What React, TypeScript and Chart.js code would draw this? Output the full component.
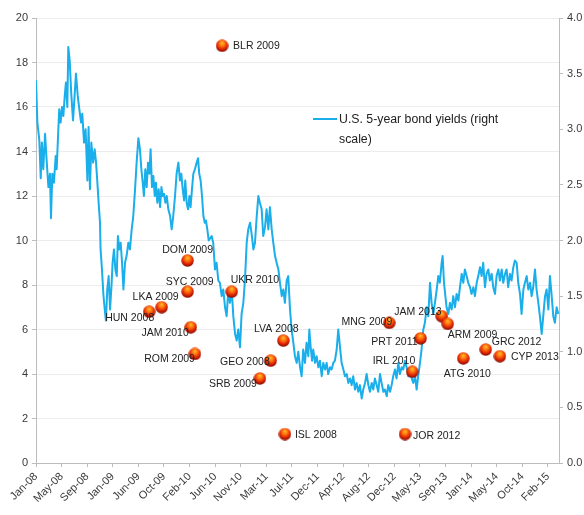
import React, { useEffect, useRef } from 'react';
import { Chart, registerables } from 'chart.js';

Chart.register(...registerables);

// ---------- data ----------
const xTickLabels = ['Jan-08', 'May-08', 'Sep-08', 'Jan-09', 'Jun-09', 'Oct-09', 'Feb-10', 'Jun-10', 'Nov-10', 'Mar-11', 'Jul-11', 'Dec-11', 'Apr-12', 'Aug-12', 'Dec-12', 'May-13', 'Sep-13', 'Jan-14', 'May-14', 'Oct-14', 'Feb-15'];
const TICK_STEP_DAYS = 130; // days between date labels (from 1 Jan 2008)
const X_MAX_DAYS = 2656;

const leftTicks = [0, 2, 4, 6, 8, 10, 12, 14, 16, 18, 20];
const rightTicks = [0, 0.5, 1, 1.5, 2, 2.5, 3, 3.5, 4];

// U.S. 5-year bond yields (right scale), days since 1 Jan 2008
const bondDays = [
  0, 7, 17, 24, 30, 37, 46, 54, 63, 71, 76, 83, 91, 100, 105, 112, 118, 125, 132, 139, 146, 152, 159, 164, 171, 179, 188, 196, 203, 212, 220, 229, 235, 244, 252, 261, 267, 274, 281, 290, 298, 305, 311, 318, 325, 328, 335, 342, 349, 355, 362, 369, 376, 383, 389, 396, 403, 410, 416, 423, 430, 437,
  444, 452, 460, 469, 477, 486, 494, 503, 511, 520, 528, 535, 542, 548, 555, 562, 569, 576, 582, 589, 596, 603, 609, 616, 623, 630, 637, 643, 650, 657, 664, 672, 681, 689, 697, 706, 714, 723, 731, 738, 745, 752, 758, 765, 772, 779, 785, 792, 799, 807, 816, 823, 829, 836, 843, 850, 857, 863, 870, 877,
  892, 900, 909, 917, 926, 934, 943, 951, 960, 968, 977, 985, 994, 1002, 1011, 1019, 1027, 1036, 1044, 1053, 1061, 1070, 1078, 1087, 1095, 1104, 1112, 1121, 1129, 1137, 1146, 1154, 1163, 1171, 1180, 1188, 1197, 1205, 1214, 1222, 1231, 1239, 1248, 1256, 1264, 1273, 1281, 1290, 1298, 1307, 1315, 1324, 1332, 1341,
  1349, 1357, 1366, 1374, 1383, 1388, 1395, 1402, 1408, 1417, 1425, 1434, 1442, 1451, 1459, 1468, 1476, 1484, 1493, 1501, 1510, 1518, 1527, 1535, 1544, 1552, 1561, 1569, 1578, 1586, 1595, 1603, 1611, 1620, 1628, 1637, 1645, 1654, 1662, 1671, 1679, 1688, 1696, 1705, 1713, 1721, 1730, 1738, 1747, 1755, 1764, 1772, 1781, 1789, 1798,
  1806, 1814, 1823, 1831, 1840, 1848, 1857, 1865, 1874, 1882, 1891, 1899, 1908, 1916, 1925, 1933, 1941, 1950, 1958, 1967, 1975, 1984, 1992, 2001, 2009, 2018, 2026, 2035, 2043, 2051, 2060, 2065, 2072, 2079, 2085, 2094, 2102, 2111, 2119, 2128, 2136, 2145, 2153, 2162, 2170, 2178, 2187, 2195, 2204, 2212, 2221, 2229, 2238, 2246, 2255,
  2263, 2271, 2280, 2288, 2297, 2305, 2314, 2322, 2331, 2339, 2348, 2356, 2365, 2373, 2382, 2390, 2398, 2407, 2415, 2424, 2432, 2441, 2449, 2458, 2466, 2475, 2483, 2492, 2500, 2509, 2517, 2525, 2534, 2542, 2551, 2559, 2568, 2576, 2585, 2593, 2602, 2610, 2619, 2627, 2635, 2644, 2652,
];
const bondYields = [
  3.44, 3.06, 2.90, 2.56, 2.88, 2.64, 2.96, 2.72, 2.48, 2.60, 2.20, 2.60, 2.52, 2.76, 2.64, 2.94, 3.18, 3.06, 3.20, 3.12, 3.30, 3.42, 3.20, 3.74, 3.62, 3.32, 3.08, 3.30, 3.50, 3.30, 3.18, 3.06, 3.14, 2.88, 3.00, 2.54, 3.02, 2.46, 2.88, 2.70, 2.82, 2.70, 2.54, 2.34, 2.16, 1.92, 1.74, 1.52, 1.38, 1.28, 1.56, 1.68, 1.38, 1.58, 1.80, 1.92, 1.74, 1.68, 2.04, 1.92, 1.98, 1.80,
  1.56, 1.80, 1.86, 1.98, 1.92, 2.10, 2.22, 2.46, 2.70, 2.92, 2.82, 2.64, 2.52, 2.40, 2.64, 2.48, 2.70, 2.60, 2.82, 2.48, 2.58, 2.40, 2.52, 2.34, 2.46, 2.30, 2.48, 2.40, 2.42, 2.34, 2.40, 2.28, 2.22, 2.10, 2.22, 2.40, 2.60, 2.70, 2.54, 2.60, 2.46, 2.36, 2.54, 2.34, 2.28, 2.40, 2.30, 2.46, 2.60, 2.64, 2.70, 2.74, 2.60, 2.54, 2.40, 2.22, 2.16, 2.18, 2.10, 2.00,
  2.04, 1.98, 1.74, 1.80, 1.64, 1.62, 1.50, 1.56, 1.40, 1.32, 1.56, 1.44, 1.56, 1.32, 1.16, 1.10, 1.20, 1.04, 1.34, 1.44, 1.64, 1.98, 2.10, 2.16, 2.06, 1.92, 1.98, 2.22, 2.40, 2.34, 2.28, 2.04, 2.12, 2.28, 2.10, 2.30, 2.10, 1.98, 1.86, 1.80, 1.74, 1.62, 1.50, 1.56, 1.44, 1.64, 1.68, 1.38, 1.20, 1.08, 0.96, 0.90, 1.00, 0.86,
  0.78, 1.02, 0.90, 1.08, 0.96, 1.20, 1.04, 0.92, 1.02, 0.90, 0.96, 0.86, 0.92, 0.78, 0.90, 0.84, 0.90, 0.80, 0.86, 0.84, 0.90, 0.92, 1.02, 1.20, 1.04, 0.90, 0.84, 0.78, 0.80, 0.72, 0.76, 0.70, 0.78, 0.66, 0.72, 0.64, 0.70, 0.58, 0.66, 0.72, 0.80, 0.70, 0.64, 0.72, 0.66, 0.76, 0.70, 0.64, 0.80, 0.72, 0.64, 0.66, 0.60, 0.70, 0.64,
  0.70, 0.78, 0.84, 0.76, 0.90, 0.80, 0.86, 0.84, 0.92, 0.86, 0.78, 0.84, 0.76, 0.72, 0.78, 0.66, 0.78, 0.90, 1.02, 1.20, 1.26, 1.40, 1.32, 1.62, 1.44, 1.34, 1.44, 1.56, 1.68, 1.62, 1.80, 1.86, 1.62, 1.50, 1.40, 1.34, 1.44, 1.38, 1.50, 1.40, 1.52, 1.46, 1.58, 1.70, 1.62, 1.74, 1.68, 1.62, 1.58, 1.52, 1.58, 1.50, 1.62, 1.68, 1.76,
  1.68, 1.80, 1.58, 1.70, 1.74, 1.64, 1.70, 1.58, 1.52, 1.68, 1.74, 1.64, 1.74, 1.62, 1.70, 1.74, 1.58, 1.70, 1.64, 1.76, 1.82, 1.80, 1.62, 1.52, 1.34, 1.56, 1.62, 1.68, 1.56, 1.62, 1.50, 1.58, 1.74, 1.56, 1.44, 1.32, 1.16, 1.32, 1.50, 1.56, 1.38, 1.68, 1.50, 1.32, 1.26, 1.40, 1.34,
];

// Episodes (left scale)
const episodeNames = ['BLR 2009', 'HUN 2008', 'LKA 2009', 'DOM 2009', 'SYC 2009', 'JAM 2010', 'ROM 2009', 'UKR 2010', 'LVA 2008', 'GEO 2008', 'SRB 2009', 'ISL 2008', 'JOR 2012', 'MNG 2009', 'PRT 2011', 'IRL 2010', 'JAM 2013', 'ARM 2009', 'ATG 2010', 'GRC 2012', 'CYP 2013'];
const episodeDays = [945, 575, 638, 770, 770, 786, 807, 994, 1256, 1192, 1137, 1264, 1874, 1794, 1953, 1911, 2060, 2091, 2170, 2284, 2356];
const episodeValues = [18.75, 6.8, 7.0, 9.1, 7.7, 6.1, 4.9, 7.7, 5.5, 4.6, 3.8, 1.3, 1.3, 6.3, 5.6, 4.1, 6.6, 6.25, 4.7, 5.1, 4.8];

const legendLines = ['U.S. 5-year bond yields (right', 'scale)'];

// ---------- styles ----------
const FONT = "'Liberation Sans Narrow', 'Liberation Sans', 'DejaVu Sans', sans-serif";
const AXIS_COLOR = '#bdbdbd';
const GRID_COLOR = '#ececec';
const TEXT_COLOR = '#3a3a3a';
const LINE_COLOR = '#1aaeea';

// label placement: [dx, dy, align]
const labelPlacement: Record<string, [number, number, CanvasTextAlign]> = {
  'BLR 2009': [11, 0, 'left'],
  'HUN 2008': [5, 6, 'right'],
  'LKA 2009': [-6, -10, 'center'],
  'DOM 2009': [0, -10, 'center'],
  'SYC 2009': [2, -10, 'center'],
  'JAM 2010': [-2, 6, 'right'],
  'ROM 2009': [0, 5, 'right'],
  'UKR 2010': [-1, -12, 'left'],
  'LVA 2008': [-7, -12, 'center'],
  'GEO 2008': [-1, 1, 'right'],
  'SRB 2009': [-3, 6, 'right'],
  'ISL 2008': [10, 1, 'left'],
  'JOR 2012': [8, 2, 'left'],
  'MNG 2009': [3, -1, 'right'],
  'PRT 2011': [-3, 4, 'right'],
  'IRL 2010': [3, -11, 'right'],
  'JAM 2013': [0, -4, 'right'],
  'ARM 2009': [0, 11, 'left'],
  'ATG 2010': [4, 16, 'center'],
  'GRC 2012': [6, -7, 'left'],
  'CYP 2013': [11, 1, 'left'],
};

function makeSphere(r: number): HTMLCanvasElement {
  const c = document.createElement('canvas');
  const d = Math.ceil(r * 2);
  c.width = d;
  c.height = d;
  const g = c.getContext('2d')!;
  const grad = g.createRadialGradient(r, r * 0.55, 0, r, r * 0.8, r * 1.1);
  grad.addColorStop(0, '#ffc22e');
  grad.addColorStop(0.35, '#ff7a10');
  grad.addColorStop(0.7, '#e52a05');
  grad.addColorStop(1, '#8d0a00');
  g.fillStyle = grad;
  g.beginPath();
  g.arc(r, r, r - 0.3, 0, Math.PI * 2);
  g.fill();
  return c;
}

const annotationPlugin = {
  id: 'episodeLabelsAndLegend',
  afterDatasetsDraw(chart: any) {
    const ctx = chart.ctx as CanvasRenderingContext2D;
    const meta = chart.getDatasetMeta(0);
    ctx.save();
    ctx.font = `10.5px ${FONT}`;
    ctx.fillStyle = '#222222';
    ctx.textBaseline = 'middle';
    meta.data.forEach((pt: any, i: number) => {
      const name = episodeNames[i];
      const [dx, dy, align] = labelPlacement[name];
      ctx.textAlign = align;
      ctx.fillText(name, pt.x + dx, pt.y + dy);
    });
    // legend inside the plot
    const ca = chart.chartArea;
    const lx = ca.left + 277;
    const ly = ca.top + 101;
    ctx.strokeStyle = LINE_COLOR;
    ctx.lineWidth = 2;
    ctx.beginPath();
    ctx.moveTo(lx, ly);
    ctx.lineTo(lx + 24, ly);
    ctx.stroke();
    ctx.font = `12.3px ${FONT}`;
    ctx.fillStyle = '#222222';
    ctx.textAlign = 'left';
    legendLines.forEach((t, i) => ctx.fillText(t, lx + 26, ly + 1 + i * 20));
    ctx.restore();
  },
};

export default function App() {
  const ref = useRef<HTMLCanvasElement>(null);
  useEffect(() => {
    document.body.style.margin = '0';
    const canvas = ref.current!;
    const sphere = makeSphere(6.5);
    const tickFont = { family: FONT, size: 11 };
    const chart = new Chart(canvas, {
      type: 'line',
      data: {
        datasets: [
          {
            label: 'Episodes',
            data: episodeDays.map((d, i) => ({ x: d, y: episodeValues[i] })),
            yAxisID: 'y',
            showLine: false,
            pointStyle: sphere as any,
            pointRadius: 6.5,
            order: 0,
          },
          {
            label: 'U.S. 5-year bond yields (right scale)',
            data: bondDays.map((d, i) => ({ x: d, y: bondYields[i] })),
            yAxisID: 'y1',
            borderColor: LINE_COLOR,
            borderWidth: 2,
            pointRadius: 0,
            tension: 0,
            fill: false,
            borderJoinStyle: 'round',
            order: 1,
          },
        ],
      },
      options: {
        responsive: false,
        animation: false,
        devicePixelRatio: 1,
        layout: { padding: { top: 18, left: 0, right: 0, bottom: 0 } },
        plugins: { legend: { display: false }, tooltip: { enabled: false } },
        scales: {
          x: {
            type: 'linear',
            min: 0,
            max: X_MAX_DAYS,
            afterBuildTicks: (s: any) => {
              s.ticks = xTickLabels.map((_, i) => ({ value: i * TICK_STEP_DAYS }));
            },
            afterFit: (s: any) => { s.height = 52; },
            ticks: {
              autoSkip: false,
              minRotation: 45,
              maxRotation: 45,
              font: tickFont,
              color: TEXT_COLOR,
              callback: (_v: any, i: number) => xTickLabels[i],
            },
            grid: { drawOnChartArea: false, color: AXIS_COLOR, tickLength: 4 },
            border: { color: AXIS_COLOR },
          },
          y: {
            position: 'left',
            min: 0,
            max: 20,
            afterBuildTicks: (s: any) => { s.ticks = leftTicks.map((v) => ({ value: v })); },
            afterFit: (s: any) => { s.width = 36; },
            ticks: { font: tickFont, color: TEXT_COLOR, padding: 4 },
            grid: { color: GRID_COLOR, tickColor: AXIS_COLOR, tickLength: 4 },
            border: { color: AXIS_COLOR },
          },
          y1: {
            position: 'right',
            min: 0,
            max: 4,
            afterBuildTicks: (s: any) => { s.ticks = rightTicks.map((v) => ({ value: v })); },
            afterFit: (s: any) => { s.width = 25; },
            ticks: { font: tickFont, color: TEXT_COLOR, padding: 4, callback: (v: any) => Number(v).toFixed(1) },
            grid: { drawOnChartArea: false, color: AXIS_COLOR, tickLength: 4 },
            border: { color: AXIS_COLOR },
          },
        },
      },
      plugins: [annotationPlugin],
    } as any);
    return () => chart.destroy();
  }, []);
  return (
    <canvas ref={ref} width={584} height={515} style={{ display: 'block', width: 584, height: 515 }} />
  );
}
